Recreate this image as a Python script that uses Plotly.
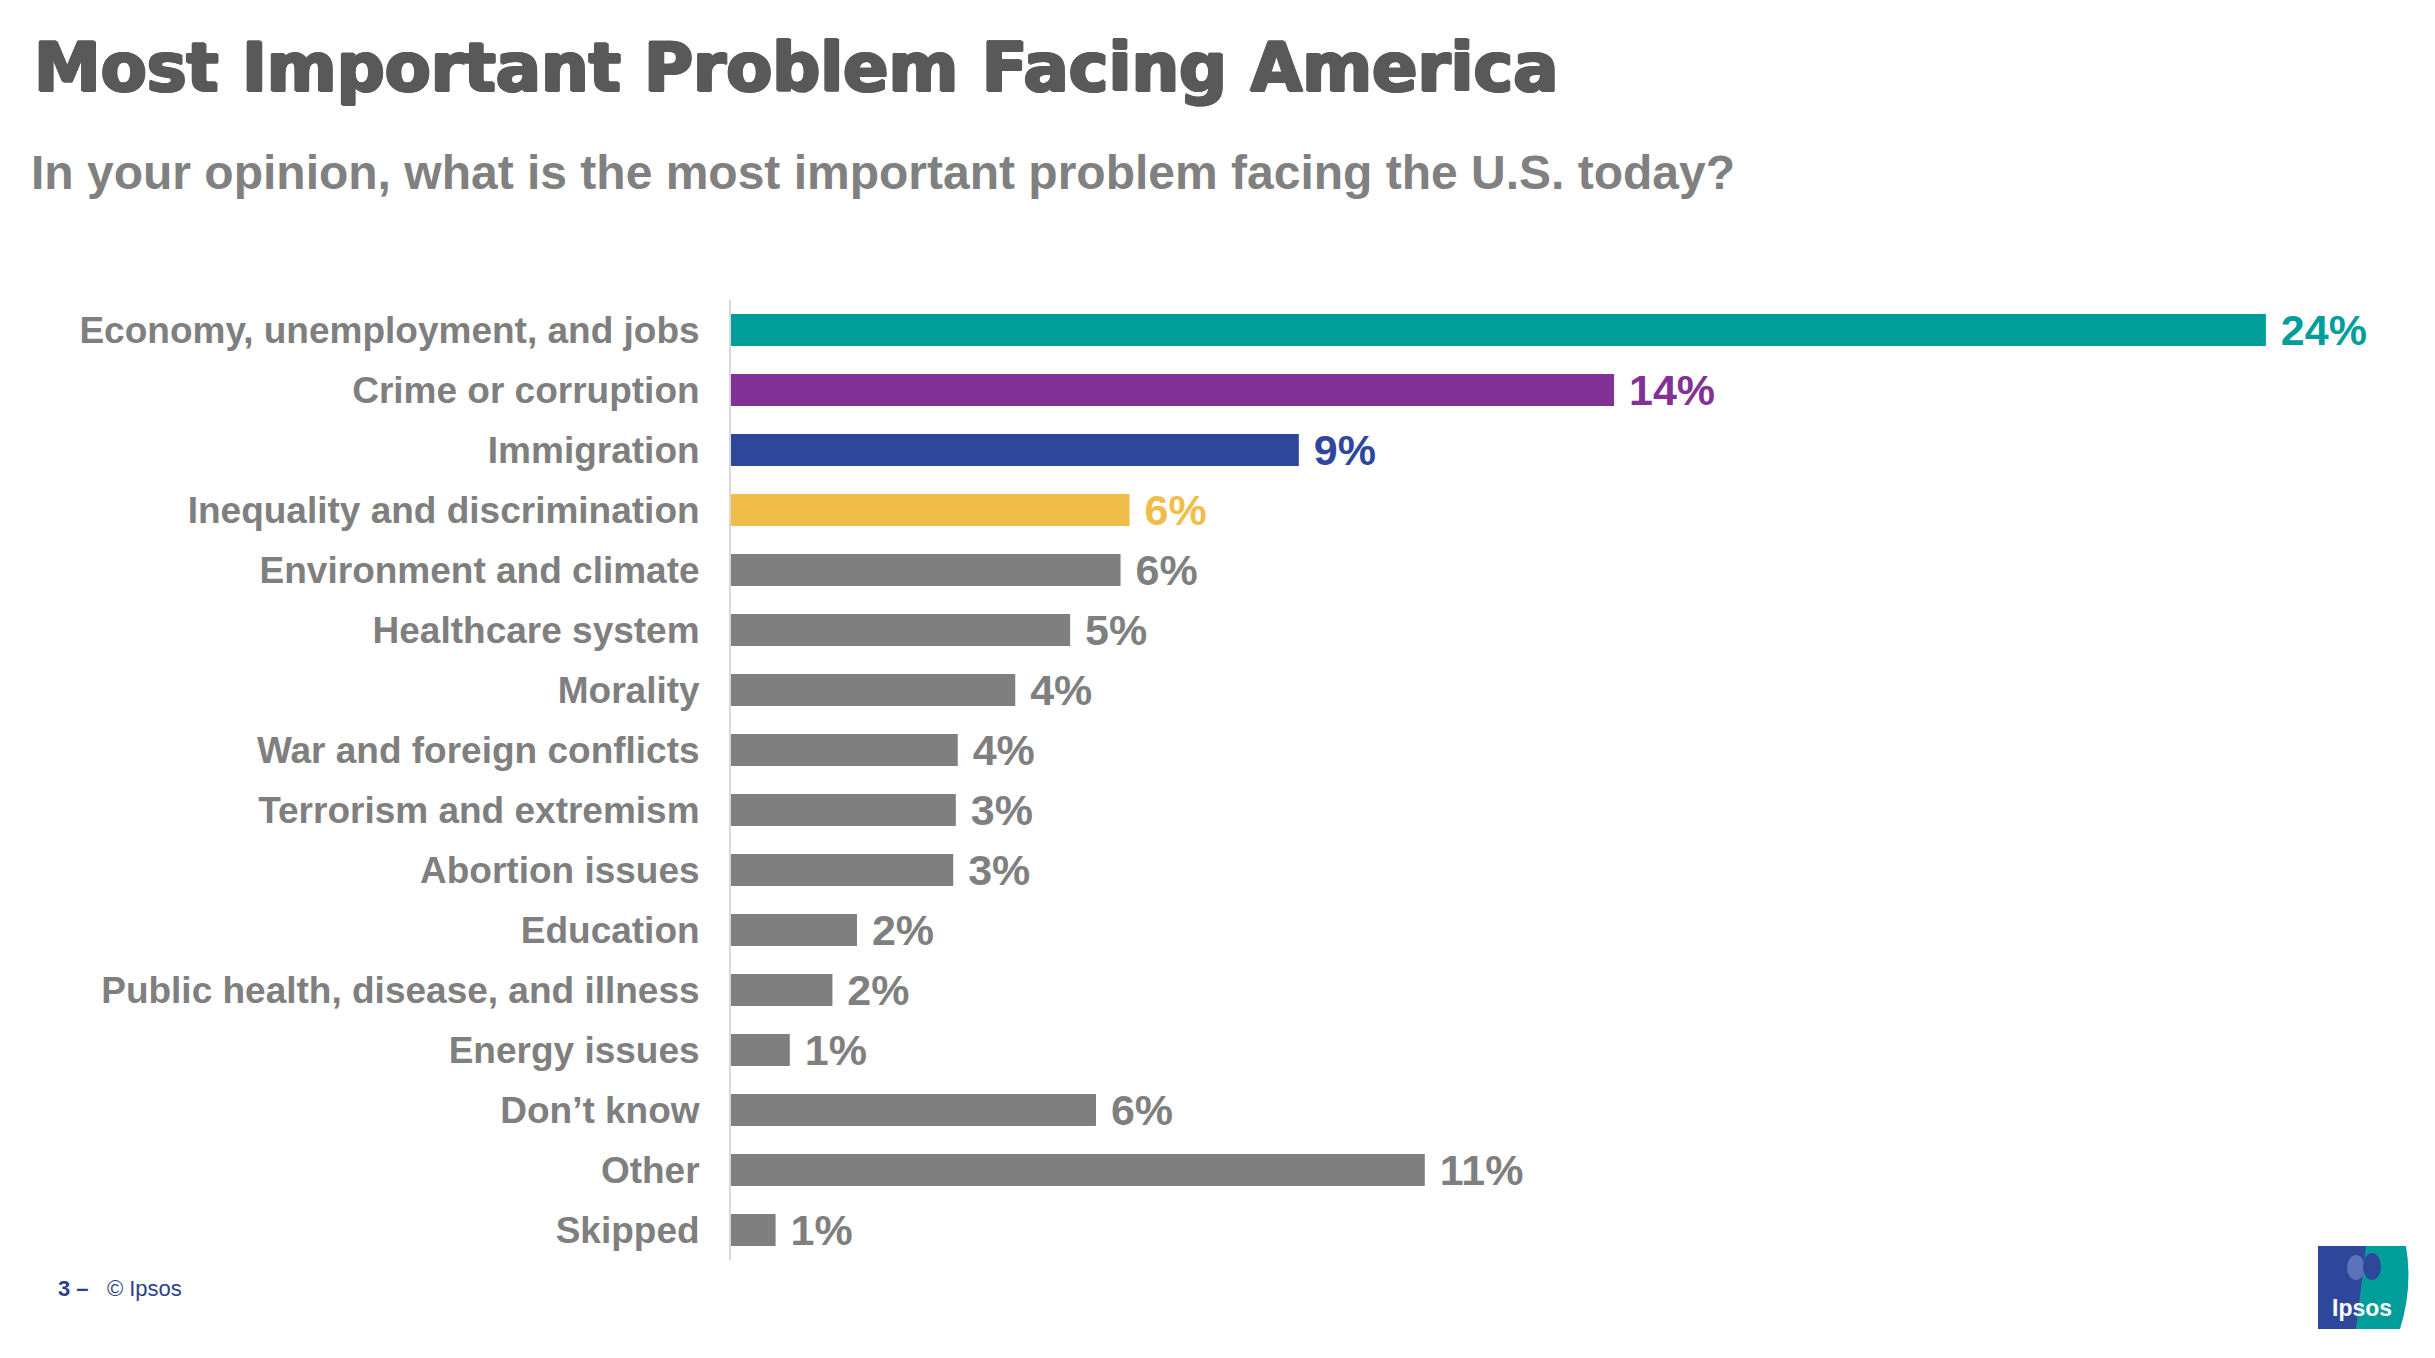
import plotly.graph_objects as go

# ---------------- data ----------------
categories = [
    "Economy, unemployment, and jobs",
    "Crime or corruption",
    "Immigration",
    "Inequality and discrimination",
    "Environment and climate",
    "Healthcare system",
    "Morality",
    "War and foreign conflicts",
    "Terrorism and extremism",
    "Abortion issues",
    "Education",
    "Public health, disease, and illness",
    "Energy issues",
    "Don’t know",
    "Other",
    "Skipped",
]
values = [23.76, 13.67, 8.79, 6.17, 6.03, 5.25, 4.40, 3.51, 3.48, 3.44,
          1.95, 1.57, 0.91, 5.65, 10.74, 0.69]
value_labels = ["24%", "14%", "9%", "6%", "6%", "5%", "4%", "4%", "3%", "3%",
                "2%", "2%", "1%", "6%", "11%", "1%"]
bar_colors = ["#009D9A", "#823296", "#2E479B", "#F0BE48"] + ["#7F7F7F"] * 12

title_text = "Most Important Problem Facing America"
subtitle_text = "In your opinion, what is the most important problem facing the U.S. today?"

# ---------------- layout geometry ----------------
W, H = 2435, 1358
PL, PT, PW, PH = 731, 300, 1604, 960
PX_PER_PCT = 64.6


def px_x(x):
    return (x - PL) / PW


def px_y(y):
    return 1 - (y - PT) / PH


fig = go.Figure()
fig.add_trace(go.Bar(
    y=categories,
    x=values,
    orientation="h",
    marker=dict(color=bar_colors, line=dict(width=0)),
    text=value_labels,
    texttemplate=" %{text}",
    textposition="outside",
    constraintext="none",
    cliponaxis=False,
    textfont=dict(family="Liberation Sans", size=43, color=bar_colors, weight="bold"),
    hoverinfo="skip",
))

title_shadow = ("1.5px 0 0 #595959, -1.5px 0 0 #595959, 0 1px 0 #595959, "
                "0 -1px 0 #595959, 1px 1px 0 #595959, -1px -1px 0 #595959")

annotations = [
    dict(text=title_text, x=px_x(32), y=px_y(68), xref="paper", yref="paper",
         xanchor="left", yanchor="middle", showarrow=False,
         font=dict(family="DejaVu Sans", size=67, color="#595959", weight="bold",
                   shadow=title_shadow)),
    dict(text=subtitle_text, x=px_x(29), y=px_y(172), xref="paper", yref="paper",
         xanchor="left", yanchor="middle", showarrow=False,
         font=dict(family="Liberation Sans", size=48, color="#808080", weight="bold")),
    dict(text="<b>3 –</b>   © Ipsos", x=px_x(56), y=px_y(1288), xref="paper", yref="paper",
         xanchor="left", yanchor="middle", showarrow=False,
         font=dict(family="Liberation Sans", size=22, color="#2B3F8C")),
    dict(text="<b>Ipsos</b>", x=px_x(2362), y=px_y(1308), xref="paper", yref="paper",
         xanchor="center", yanchor="middle", showarrow=False,
         font=dict(family="Liberation Sans", size=23, color="#FFFFFF")),
]

shapes = [
    # logo blue part
    dict(type="rect", xref="paper", yref="paper",
         x0=px_x(2318), x1=px_x(2367), y0=px_y(1329), y1=px_y(1246),
         fillcolor="#2E479B", line=dict(width=0), layer="below"),
    # logo teal part
    dict(type="path", xref="paper", yref="paper",
         path=("M {a},{b} L {c},{b} Q {d},{e} {f},{g} L {h},{g} Q {i},{e} {a},{b} Z").format(
             a=px_x(2366), b=px_y(1246), c=px_x(2406), d=px_x(2413), e=px_y(1288),
             f=px_x(2400), g=px_y(1329), h=px_x(2356), i=px_x(2361)),
         fillcolor="#009D9A", line=dict(width=0), layer="below"),
    # tree canopy
    dict(type="circle", xref="paper", yref="paper",
         x0=px_x(2347), x1=px_x(2365), y0=px_y(1280), y1=px_y(1255),
         fillcolor="#5C73B8", line=dict(width=0), layer="below"),
    # head silhouette
    dict(type="circle", xref="paper", yref="paper",
         x0=px_x(2363), x1=px_x(2381), y0=px_y(1280), y1=px_y(1253),
         fillcolor="#2E479B", line=dict(width=0), layer="below"),
]

fig.update_layout(
    width=W, height=H,
    margin=dict(l=PL, r=W - PL - PW, t=PT, b=H - PT - PH, autoexpand=False),
    paper_bgcolor="#FFFFFF", plot_bgcolor="#FFFFFF",
    bargap=0.467,
    showlegend=False,
    annotations=annotations,
    shapes=shapes,
    xaxis=dict(range=[0, PW / PX_PER_PCT], visible=False, fixedrange=True),
    yaxis=dict(
        autorange="reversed",
        showgrid=False, zeroline=False,
        showline=True, linecolor="#D9D9D9", linewidth=2,
        ticks="", ticklabelstandoff=22,
        tickfont=dict(family="Liberation Sans", size=37, color="#7F7F7F", weight="bold"),
    ),
)

fig.write_html("out.html")
